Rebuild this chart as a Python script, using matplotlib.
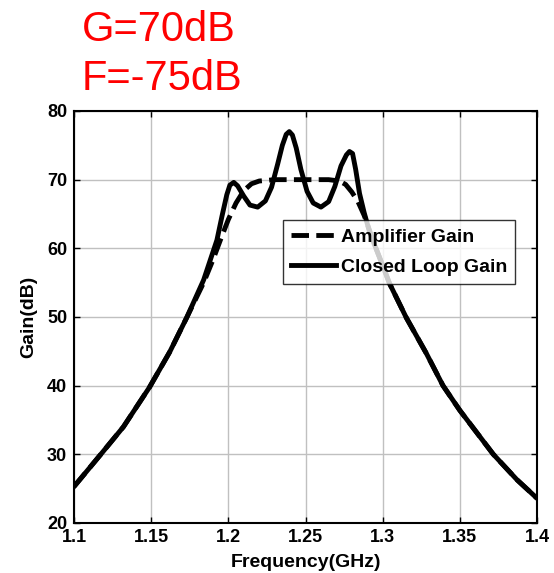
import numpy as np
import matplotlib
matplotlib.use("Agg")
import matplotlib.pyplot as plt

# Amplifier gain (dashed)
freq_amp = [1.10, 1.117, 1.132, 1.149, 1.162, 1.173, 1.184, 1.19, 1.195, 1.20,
            1.205, 1.21, 1.215, 1.22, 1.23, 1.25, 1.265, 1.272, 1.276, 1.28,
            1.284, 1.288, 1.292, 1.296, 1.30, 1.3044, 1.3153, 1.3283, 1.3391, 1.35,
            1.3717, 1.387, 1.40]
gain_amp = [25.3, 29.9, 34.0, 39.8, 44.9, 49.9, 55.0, 58.3, 61.3, 64.2,
            66.6, 68.4, 69.4, 69.8, 70.0, 70.0, 70.0, 69.8, 69.3, 68.2,
            66.8, 64.8, 62.3, 59.8, 57.5, 54.9, 49.9, 44.7, 40.0, 36.4,
            30.0, 26.3, 23.6]

# Closed loop gain (solid)
freq_cl = [1.10, 1.117, 1.132, 1.149, 1.162, 1.173, 1.184, 1.1926, 1.196, 1.199,
           1.201, 1.2035, 1.206, 1.210, 1.214, 1.219, 1.224, 1.228, 1.232, 1.235,
           1.2375, 1.2395, 1.2415, 1.244, 1.247, 1.251, 1.255, 1.260, 1.265, 1.269,
           1.273, 1.2765, 1.2785, 1.2805, 1.2825, 1.285, 1.288, 1.292, 1.296, 1.30,
           1.3044, 1.3153, 1.3283, 1.3391, 1.35, 1.3717, 1.387, 1.40]
gain_cl = [25.3, 29.9, 34.0, 39.8, 44.9, 49.9, 55.4, 61.2, 64.8, 67.8,
           69.2, 69.6, 69.1, 67.6, 66.3, 66.0, 66.9, 68.9, 72.3, 75.0,
           76.6, 77.0, 76.5, 74.6, 71.5, 68.3, 66.6, 66.0, 66.8, 69.0,
           72.0, 73.6, 74.1, 73.8, 71.5, 68.0, 65.2, 62.0, 59.8, 57.5,
           54.9, 49.9, 44.7, 40.0, 36.4, 30.0, 26.3, 23.6]

x_ticks = [1.1, 1.15, 1.2, 1.25, 1.3, 1.35, 1.4]
x_tick_labels = ['1.1', '1.15', '1.2', '1.25', '1.3', '1.35', '1.4']
y_ticks = [20, 30, 40, 50, 60, 70, 80]

font = ['Liberation Sans', 'DejaVu Sans']
plt.rcParams['font.family'] = font

fig = plt.figure(figsize=(5.54, 5.73), dpi=100)
ax = fig.add_axes([0.1336, 0.0873, 0.8357, 0.719])

ax.plot(freq_amp, gain_amp, color='black', lw=3.5, ls=(0, (3.6, 1.5)),
        label='Amplifier Gain')
ax.plot(freq_cl, gain_cl, color='black', lw=3.5, label='Closed Loop Gain')

ax.set_xlim(1.1, 1.4)
ax.set_ylim(20, 80)
ax.set_xticks(x_ticks)
ax.set_xticklabels(x_tick_labels)
ax.set_yticks(y_ticks)
ax.grid(True, color='#c0c0c0', lw=1.0)
ax.set_axisbelow(True)
ax.tick_params(direction='in', length=4, width=1, top=True, right=True,
               labelsize=13)
ax.tick_params(axis='x', pad=4)
ax.tick_params(axis='y', pad=5)
for lab in ax.get_xticklabels() + ax.get_yticklabels():
    lab.set_fontweight('bold')
for s in ax.spines.values():
    s.set_linewidth(1.5)

ax.set_xlabel('Frequency(GHz)', fontsize=14, fontweight='bold', labelpad=6)
ax.set_ylabel('Gain(dB)', fontsize=14, fontweight='bold', labelpad=7)

leg = ax.legend(loc='upper left', bbox_to_anchor=(0.452, 0.735),
                prop={'weight': 'bold', 'size': 14, 'family': font},
                frameon=True, fancybox=False, edgecolor='black',
                handlelength=2.3, handletextpad=0.25, borderpad=0.4,
                labelspacing=0.65, borderaxespad=0)
leg.get_frame().set_linewidth(1.0)

fig.text(0.148, 0.928, 'G=70dB', color='#ff0000', fontsize=30,
         family=['Liberation Sans', 'DejaVu Sans'])
fig.text(0.148, 0.843, 'F=-75dB', color='#ff0000', fontsize=30,
         family=['Liberation Sans', 'DejaVu Sans'])

fig.savefig('out.png', dpi=100)
